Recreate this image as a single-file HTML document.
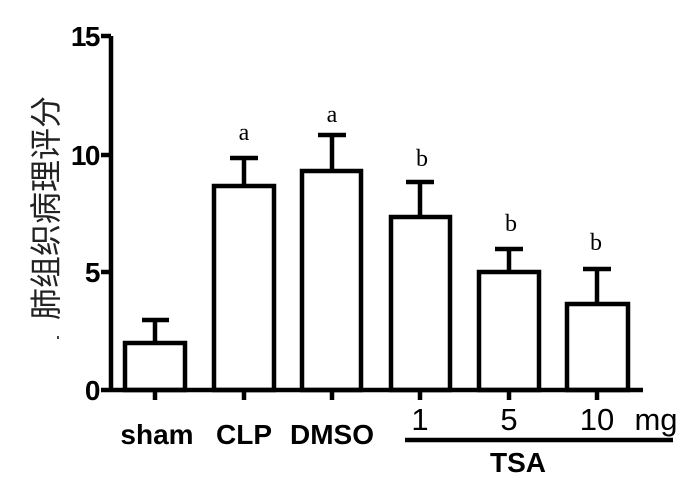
<!DOCTYPE html>
<html><head><style>body{margin:0;background:#fff}</style></head><body>
<svg width="700" height="479" xmlns="http://www.w3.org/2000/svg">
<g stroke="#000" stroke-width="4.5" fill="none">
<line x1="111" y1="36" x2="111" y2="391"/>
<line x1="101" y1="36" x2="111" y2="36"/>
<line x1="101" y1="155" x2="111" y2="155"/>
<line x1="101" y1="272" x2="111" y2="272"/>
<line x1="101" y1="390" x2="643" y2="390"/>
<line x1="155" y1="390" x2="155" y2="400"/>
<line x1="244" y1="390" x2="244" y2="400"/>
<line x1="332" y1="390" x2="332" y2="400"/>
<line x1="420" y1="390" x2="420" y2="400"/>
<line x1="509" y1="390" x2="509" y2="400"/>
<line x1="597" y1="390" x2="597" y2="400"/>
<rect x="125" y="343" width="60" height="47"/>
<line x1="155" y1="343" x2="155" y2="320"/><line x1="142" y1="320" x2="169" y2="320"/>
<rect x="214" y="186" width="60" height="204"/>
<line x1="244" y1="186" x2="244" y2="158"/><line x1="230" y1="158" x2="258" y2="158"/>
<rect x="302" y="171" width="59" height="219"/>
<line x1="332" y1="171" x2="332" y2="135"/><line x1="318" y1="135" x2="346" y2="135"/>
<rect x="391" y="217" width="59" height="173"/>
<line x1="420" y1="217" x2="420" y2="182"/><line x1="406" y1="182" x2="434" y2="182"/>
<rect x="479" y="272" width="60" height="118"/>
<line x1="509" y1="272" x2="509" y2="249"/><line x1="495" y1="249" x2="523" y2="249"/>
<rect x="567" y="304" width="61" height="86"/>
<line x1="597" y1="304" x2="597" y2="269"/><line x1="583" y1="269" x2="611" y2="269"/>
<line x1="405" y1="440" x2="673" y2="440"/>
</g>
<g font-family="Liberation Sans, sans-serif" font-weight="bold" font-size="28" text-anchor="end" letter-spacing="-1.5">
<text x="99" y="46">15</text><text x="99" y="165">10</text><text x="99" y="282">5</text><text x="99" y="400">0</text>
</g>
<g font-family="Liberation Sans, sans-serif" font-weight="bold" font-size="28" text-anchor="middle">
<text x="157" y="444">sham</text><text x="244" y="444">CLP</text><text x="332" y="444">DMSO</text>
<text x="518" y="472">TSA</text>
</g>
<g font-family="Liberation Sans, sans-serif" font-size="31" text-anchor="middle">
<text x="420" y="430">1</text><text x="509" y="430">5</text><text x="597" y="430">10</text><text x="656" y="430">mg</text>
</g>
<g font-family="Liberation Serif, serif" font-size="24" text-anchor="middle">
<text x="244" y="140">a</text><text x="332" y="122">a</text>
<text x="422" y="166">b</text><text x="511" y="231">b</text><text x="596" y="250">b</text>
</g>
<rect x="57" y="336" width="2" height="3" fill="#444"/>
<text transform="translate(57,208) rotate(-90)" text-anchor="middle" font-family="Liberation Sans, Noto Sans CJK SC, sans-serif" font-size="32" fill="#222">肺组织病理评分</text>
</svg>
</body></html>
